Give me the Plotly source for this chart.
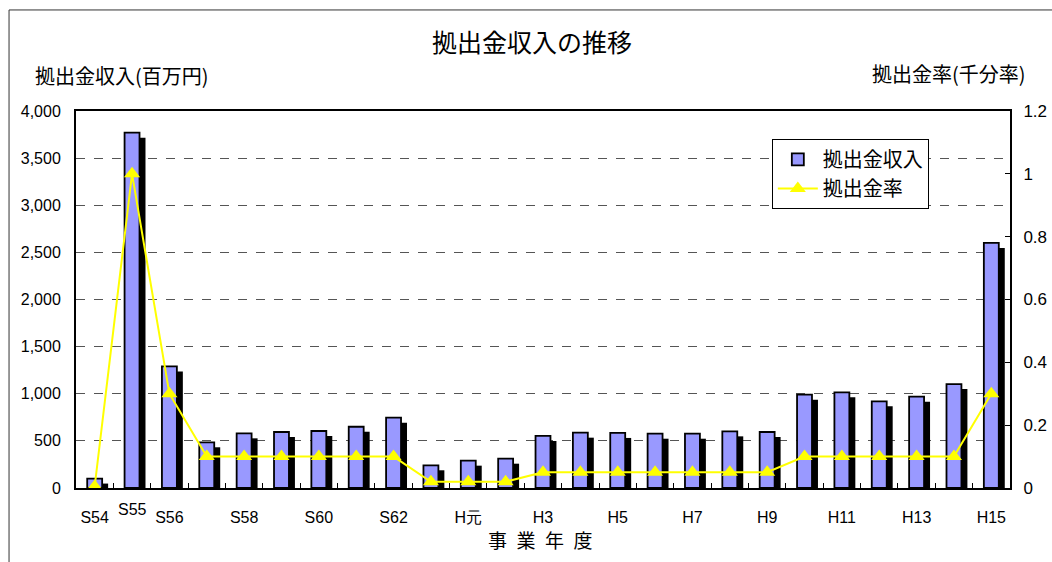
import plotly.graph_objects as go

years = ["S54", "S55", "S56", "S57", "S58", "S59", "S60", "S61", "S62", "S63",
         "H元", "H2", "H3", "H4", "H5", "H6", "H7", "H8", "H9", "H10",
         "H11", "H12", "H13", "H14", "H15"]
income = [100, 3770, 1290, 485, 580, 594, 605, 650, 746, 241,
          290, 311, 552, 587, 584, 576, 576, 601, 594, 990,
          1015, 920, 969, 1103, 2600]
rate = [0.005, 1.0, 0.3, 0.1, 0.1, 0.1, 0.1, 0.1, 0.1, 0.02,
        0.02, 0.02, 0.05, 0.05, 0.05, 0.05, 0.05, 0.05, 0.05, 0.1,
        0.1, 0.1, 0.1, 0.1, 0.3]
tick_text = ["S54", "", "S56", "", "S58", "", "S60", "", "S62", "",
             "H元", "", "H3", "", "H5", "", "H7", "", "H9", "",
             "H11", "", "H13", "", "H15"]
raised_label = "S55"

CJK = "Noto Sans CJK JP"
NUM = "Liberation Sans Narrow, Liberation Sans, Arial, sans-serif"

fig = go.Figure()

# shadow bars
fig.add_trace(go.Bar(
    x=years, y=income, base=-53, width=0.4, offset=-0.04,
    marker=dict(color="black", line=dict(width=0)),
    showlegend=False, hoverinfo="skip", yaxis="y"))

fig.add_trace(go.Bar(
    x=years, y=income, width=0.4, offset=-0.2, name="拠出金収入",
    marker=dict(color="#9999FF", line=dict(color="black", width=1.8)),
    yaxis="y"))

fig.add_trace(go.Scatter(
    x=years, y=rate, name="拠出金率", mode="lines+markers",
    line=dict(color="#FFFF00", width=2),
    marker=dict(symbol="triangle-up", size=14, color="#FFFF00"),
    yaxis="y2"))

fig.update_layout(
    width=1052, height=562,
    margin=dict(l=76, r=42, t=111, b=74, autoexpand=False),
    paper_bgcolor="white", plot_bgcolor="white",
    barmode="overlay",
    font=dict(family=CJK, color="black"),
    showlegend=True,
    legend=dict(x=0.745, y=0.926, xanchor="left", yanchor="top",
                bordercolor="black", borderwidth=1, bgcolor="white",
                font=dict(family=CJK, size=20), tracegroupgap=0,
                itemwidth=40),
    xaxis=dict(type="category", categoryorder="array", categoryarray=years,
               tickmode="array", tickvals=years, ticktext=tick_text,
               tickson="boundaries", ticks="inside", ticklen=5, tickcolor="black",
               showline=True, linecolor="black", linewidth=2, mirror=True,
               showgrid=False, tickfont=dict(family=NUM, size=16),
               tickangle=0, automargin=False,
               ticklabelstandoff=14, range=[-0.5, 24.5]),
    yaxis=dict(range=[0, 4000], dtick=500, tickformat=",d",
               showline=True, linecolor="black", linewidth=2,
               showgrid=True, gridcolor="#555555", griddash="dash", gridwidth=1,
               ticks="", tickfont=dict(family=NUM, size=16), automargin=False,
               ticklabelstandoff=10, zeroline=False),
    yaxis2=dict(range=[0, 1.2], dtick=0.2, overlaying="y", side="right",
                showline=True, linecolor="black", linewidth=2,
                showgrid=False, ticks="inside", ticklen=5, tickcolor="black",
                tickfont=dict(family=NUM, size=17), ticklabelstandoff=8,
                automargin=False, zeroline=False),
)

annotations = [
    dict(text="拠出金収入の推移", x=0.488, y=1.186, xref="paper", yref="paper",
         showarrow=False, font=dict(family=CJK, size=25), xanchor="center", yanchor="middle"),
    dict(text="拠出金収入(百万円)", x=-0.046, y=1.095, xref="paper", yref="paper",
         showarrow=False, font=dict(family=CJK, size=20), xanchor="left", yanchor="middle"),
    dict(text="拠出金率(千分率)", x=1.019, y=1.10, xref="paper", yref="paper",
         showarrow=False, font=dict(family=CJK, size=20), xanchor="right", yanchor="middle"),
    dict(text="事\u2002業\u2002年\u2002度", x=0.497, y=-0.136, xref="paper", yref="paper",
         showarrow=False, font=dict(family=CJK, size=19), xanchor="center", yanchor="middle"),
    dict(text=raised_label, x=raised_label, y=-0.058, xref="x", yref="paper",
         showarrow=False, font=dict(family=NUM, size=16), xanchor="center", yanchor="middle"),
]
fig.update_layout(annotations=annotations)

fig.update_layout(shapes=[
    dict(type="line", xref="paper", yref="paper", x0=-0.0717, x1=-0.0717, y0=-0.3, y1=1.268,
         line=dict(color="#333333", width=1)),
    dict(type="line", xref="paper", yref="paper", x0=-0.0717, x1=1.2, y0=1.268, y1=1.268,
         line=dict(color="#333333", width=1)),
])

fig.write_html("out.html", config={"displayModeBar": False},
               post_script="document.body.style.margin='0px';")
